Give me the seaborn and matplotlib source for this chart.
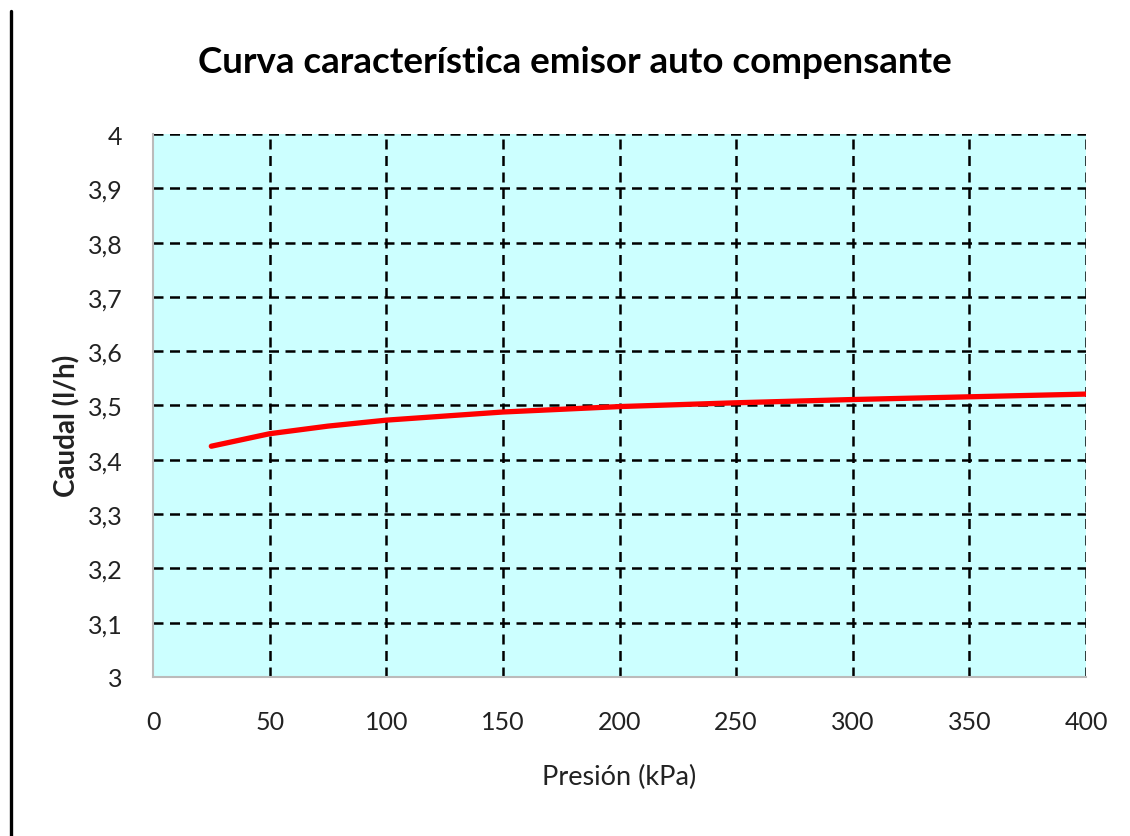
import seaborn as sns
import matplotlib.pyplot as plt
import pandas as pd
from matplotlib.lines import Line2D
from matplotlib.ticker import FuncFormatter

presion = [25, 50, 75, 100, 150, 200, 250, 300, 350, 400]
caudal = [3.425, 3.448, 3.462, 3.473, 3.488, 3.498, 3.505, 3.511, 3.516, 3.521]
x_ticks = [0, 50, 100, 150, 200, 250, 300, 350, 400]
y_ticks = [3.0, 3.1, 3.2, 3.3, 3.4, 3.5, 3.6, 3.7, 3.8, 3.9, 4.0]

sns.set_theme(style="white")
plt.rcParams['font.family'] = ['Lato', 'DejaVu Sans']

df = pd.DataFrame({"Presión": presion, "Caudal": caudal})

fig = plt.figure(figsize=(11.3, 8.37), dpi=100)
ax = fig.add_axes([0.1354, 0.19, 0.8257, 0.6487])
ax.set_facecolor("#CCFFFF")

sns.lineplot(data=df, x="Presión", y="Caudal", color="#FF0000", linewidth=3.8, ax=ax, zorder=3)

ax.set_xlim(0, 400)
ax.set_ylim(3, 4)
ax.set_xticks(x_ticks)
ax.set_yticks(y_ticks)
ax.yaxis.set_major_formatter(FuncFormatter(lambda v, p: f"{v:g}".replace(".", ",")))
ax.tick_params(length=0, labelsize=18, colors="#222222")
ax.tick_params(axis="x", pad=24)
ax.tick_params(axis="y", pad=22)

for v in y_ticks[1:]:
    ax.axhline(v, color="black", linewidth=1.8, linestyle=(0, (4, 2.6)), zorder=2)
for v in x_ticks[1:]:
    ax.axvline(v, color="black", linewidth=1.8, linestyle=(0, (4, 2.6)), zorder=2)

for side in ["top", "right"]:
    ax.spines[side].set_visible(False)
for side in ["left", "bottom"]:
    ax.spines[side].set_color("#BBBBBB")
    ax.spines[side].set_linewidth(1.5)

ax.set_xlabel("Presión (kPa)", fontsize=19.5, color="#222222", va="center")
ax.xaxis.set_label_coords(0.5, -0.184)
ax.set_ylabel("Caudal (l/h)", fontsize=20, fontweight="bold", color="#222222", va="center")
ax.yaxis.set_label_coords(-0.092, 0.465)
fig.text(0.509, 0.925, "Curva característica emisor auto compensante",
         ha="center", va="center", fontsize=26.5, fontweight="bold", color="black")

fig.add_artist(Line2D([0.0097, 0.0097], [0.0, 0.986], color="black", linewidth=2.4,
                      transform=fig.transFigure))

fig.savefig("out.png", dpi=100)
